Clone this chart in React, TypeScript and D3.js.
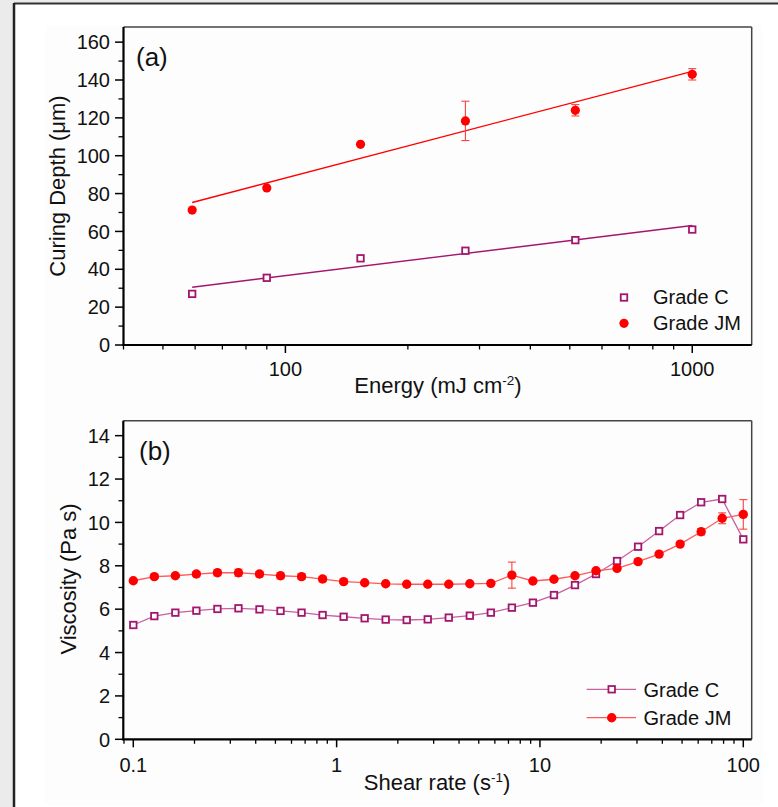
import React from "react";
import * as d3 from "d3";

// ---------- Panel (a) data ----------
const energy = [59, 90, 153, 277, 516, 1000];
const depthC = [27, 35.5, 45.8, 49.8, 55.4, 61];
const depthJM = [71.3, 83, 106, 118.4, 124, 143];
const depthJMErr = [0, 0, 0, 10.4, 3, 3];
const topYTicks = [0, 20, 40, 60, 80, 100, 120, 140, 160];
const topXTicks = [100, 1000];

// ---------- Panel (b) data ----------
const shearRate = [
  0.1, 0.1269, 0.161, 0.2043, 0.2593, 0.329, 0.4175, 0.5298, 0.6723, 0.8531,
  1.0826, 1.3737, 1.7431, 2.2118, 2.8066, 3.5613, 4.519, 5.7342, 7.2763, 9.233,
  11.716, 14.866, 18.864, 23.937, 30.374, 38.542, 48.906, 62.058, 78.746, 100,
];
const viscC = [
  5.27, 5.68, 5.84, 5.93, 6.01, 6.04, 5.99, 5.92, 5.84, 5.73,
  5.65, 5.58, 5.52, 5.5, 5.53, 5.61, 5.7, 5.84, 6.07, 6.3,
  6.65, 7.11, 7.62, 8.22, 8.88, 9.6, 10.34, 10.93, 11.08, 9.22,
];
const viscJM = [
  7.31, 7.5, 7.54, 7.62, 7.68, 7.68, 7.62, 7.54, 7.5, 7.39,
  7.27, 7.22, 7.17, 7.15, 7.15, 7.15, 7.17, 7.19, 7.57, 7.3,
  7.38, 7.54, 7.77, 7.88, 8.19, 8.54, 9.0, 9.57, 10.19, 10.37,
];
const viscJMErr = [
  0.05, 0.08, 0.08, 0.1, 0.14, 0.16, 0.12, 0.14, 0.12, 0.12,
  0.08, 0.06, 0.06, 0.05, 0.05, 0.05, 0.05, 0.05, 0.6, 0.08,
  0.06, 0.06, 0.05, 0.05, 0.05, 0.06, 0.08, 0.15, 0.25, 0.68,
];
const botYTicks = [0, 2, 4, 6, 8, 10, 12, 14];
const botXTicks = [0.1, 1, 10, 100];
const seriesNames = ["Grade C", "Grade JM"];

const C_COL = "#A3166E";
const C_LINE = "#C8609E";
const JM_COL = "#FF0000";
const JM_LINE = "#FF5A5A";
const FONT = "'Liberation Sans', Arial, Helvetica, sans-serif";

function fit(xs: number[], ys: number[]) {
  const lx = xs.map((v) => Math.log10(v));
  const mx = d3.mean(lx)!;
  const my = d3.mean(ys)!;
  let sxx = 0, sxy = 0;
  lx.forEach((v, i) => { sxx += (v - mx) ** 2; sxy += (v - mx) * (ys[i] - my); });
  const b = sxy / sxx;
  const a = my - b * mx;
  return (x: number) => a + b * Math.log10(x);
}

export default function App() {
  // panel a
  const ax = d3.scaleLog().domain([40, 1400]).range([123.5, 751.7]);
  const ay = d3.scaleLinear().domain([0, 168]).range([345, 27]);
  // panel b
  const bx = d3.scaleLog().domain([0.0893, 110]).range([123.3, 751.7]);
  const by = d3.scaleLinear().domain([0, 14.69]).range([739.3, 420.7]);

  const fitC = fit(energy, depthC);
  const fitJM = fit(energy, depthJM);
  const e0 = d3.min(energy)!;
  const e1 = d3.max(energy)!;

  const aLine = d3.line<number>().x((d) => ax(d)).y((d) => ay(d));
  const bLine = d3.line<number>().x((_, i) => bx(shearRate[i])).y((d) => by(d));

  const aMinorX = ax.ticks().filter((t) => !topXTicks.includes(t));
  const aMinorY = d3.range(10, 168, 20);
  const bMinorX = bx.ticks().filter((t) => !botXTicks.some((m) => Math.abs(m - t) < 1e-9));
  const bMinorY = d3.range(1, 14.69, 2);

  const square = (cx: number, cy: number, col: string, key: any, s = 6.5) => (
    <rect key={key} x={cx - s / 2} y={cy - s / 2} width={s} height={s}
      fill="white" stroke={col} strokeWidth={1.8} />
  );

  const tickLabel = { fontFamily: FONT, fontSize: 20, fill: "#111" } as const;

  return (
    <svg width={778} height={807} style={{ position: "absolute", left: 0, top: 0 }}
      fontFamily={FONT}>
      <rect x={0} y={0} width={778} height={807} fill="#ebebeb" />
      <rect x={14} y={3} width={770} height={810} fill="#ffffff" />
      <rect x={45} y={25} width={718} height={780} fill="#fdfdfd" />
      <line x1={14} y1={3.5} x2={778} y2={3.5} stroke="#333" strokeWidth={2} />
      <line x1={14} y1={3} x2={14} y2={807} stroke="#222" strokeWidth={2.5} />

      {/* ================= Panel (a) ================= */}
      <g>
        <line x1={123.5} y1={27} x2={751.7} y2={27} stroke="#444" strokeWidth={1.5} />
        <line x1={751.7} y1={27} x2={751.7} y2={345} stroke="#444" strokeWidth={1.5} />
        {topYTicks.map((t) => (
          <g key={"ay" + t}>
            <line x1={115} x2={123.5} y1={ay(t)} y2={ay(t)} stroke="#000" strokeWidth={1.5} />
            <text x={110} y={ay(t)} dy="0.36em" textAnchor="end" {...tickLabel}>{t}</text>
          </g>
        ))}
        {aMinorY.map((t) => (
          <line key={"aym" + t} x1={118.5} x2={123.5} y1={ay(t)} y2={ay(t)} stroke="#000" strokeWidth={1.3} />
        ))}
        {topXTicks.map((t) => (
          <g key={"ax" + t}>
            <line x1={ax(t)} x2={ax(t)} y1={345} y2={353} stroke="#000" strokeWidth={1.5} />
            <text x={ax(t)} y={376} textAnchor="middle" {...tickLabel}>{t}</text>
          </g>
        ))}
        {aMinorX.map((t) => (
          <line key={"axm" + t} x1={ax(t)} x2={ax(t)} y1={345} y2={349.5} stroke="#000" strokeWidth={1.3} />
        ))}
        <line x1={123.5} y1={27} x2={123.5} y2={346} stroke="#000" strokeWidth={2.2} />
        <line x1={122.5} y1={345} x2={751.7} y2={345} stroke="#000" strokeWidth={2.2} />

        <path d={aLine.y((d) => ay(fitC(d)))([e0, e1]) || ""} fill="none" stroke={C_COL} strokeWidth={1.4} />
        <path d={aLine.y((d) => ay(fitJM(d)))([e0, e1]) || ""} fill="none" stroke={JM_COL} strokeWidth={1.4} />

        {energy.map((e, i) =>
          depthJMErr[i] > 0 ? (
            <g key={"aerr" + i} stroke="#FF4040" strokeWidth={1.1}>
              <line x1={ax(e)} x2={ax(e)} y1={ay(depthJM[i] - depthJMErr[i])} y2={ay(depthJM[i] + depthJMErr[i])} />
              <line x1={ax(e) - 4} x2={ax(e) + 4} y1={ay(depthJM[i] - depthJMErr[i])} y2={ay(depthJM[i] - depthJMErr[i])} />
              <line x1={ax(e) - 4} x2={ax(e) + 4} y1={ay(depthJM[i] + depthJMErr[i])} y2={ay(depthJM[i] + depthJMErr[i])} />
            </g>
          ) : null
        )}
        {energy.map((e, i) => square(ax(e), ay(depthC[i]), C_COL, "ac" + i))}
        {energy.map((e, i) => (
          <circle key={"ajm" + i} cx={ax(e)} cy={ay(depthJM[i])} r={4.6} fill={JM_COL} />
        ))}

        <text x={136} y={66} fontSize={26} fill="#111">(a)</text>

        {square(624, 297.5, C_COL, "lega")}
        <text x={653} y={304} {...tickLabel}>{seriesNames[0]}</text>
        <circle cx={624} cy={323.3} r={4.6} fill={JM_COL} />
        <text x={653} y={329.5} {...tickLabel}>{seriesNames[1]}</text>

        <text transform="translate(57,186) rotate(-90)" textAnchor="middle" dy="0.36em"
          fontSize={22} fill="#111">Curing Depth (μm)</text>
        <text x={438} y={393} textAnchor="middle" fontSize={22} fill="#111">
          Energy (mJ cm<tspan dy={-8} fontSize={13.5}>-2</tspan><tspan dy={8}>)</tspan>
        </text>
      </g>

      {/* ================= Panel (b) ================= */}
      <g>
        <line x1={123.3} y1={420.7} x2={751.7} y2={420.7} stroke="#444" strokeWidth={1.5} />
        <line x1={751.7} y1={420.7} x2={751.7} y2={739.3} stroke="#444" strokeWidth={1.5} />
        {botYTicks.map((t) => (
          <g key={"by" + t}>
            <line x1={115} x2={123.3} y1={by(t)} y2={by(t)} stroke="#000" strokeWidth={1.5} />
            <text x={110} y={by(t)} dy="0.36em" textAnchor="end" {...tickLabel}>{t}</text>
          </g>
        ))}
        {bMinorY.map((t) => (
          <line key={"bym" + t} x1={118.5} x2={123.3} y1={by(t)} y2={by(t)} stroke="#000" strokeWidth={1.3} />
        ))}
        {botXTicks.map((t) => (
          <g key={"bx" + t}>
            <line x1={bx(t)} x2={bx(t)} y1={739.3} y2={747.3} stroke="#000" strokeWidth={1.5} />
            <text x={bx(t)} y={771.5} textAnchor="middle" {...tickLabel}>{String(t)}</text>
          </g>
        ))}
        {bMinorX.map((t) => (
          <line key={"bxm" + t} x1={bx(t)} x2={bx(t)} y1={739.3} y2={743.8} stroke="#000" strokeWidth={1.3} />
        ))}
        <line x1={123.3} y1={420.7} x2={123.3} y2={740.3} stroke="#000" strokeWidth={2.2} />
        <line x1={122.3} y1={739.3} x2={751.7} y2={739.3} stroke="#000" strokeWidth={2.2} />

        <path d={bLine(viscC) || ""} fill="none" stroke={C_LINE} strokeWidth={1.3} />
        <path d={bLine(viscJM) || ""} fill="none" stroke={JM_LINE} strokeWidth={1.3} />

        {shearRate.map((s, i) => (
          <g key={"berr" + i} stroke="#FF4040" strokeWidth={1.1}>
            <line x1={bx(s)} x2={bx(s)} y1={by(viscJM[i] - viscJMErr[i])} y2={by(viscJM[i] + viscJMErr[i])} />
            <line x1={bx(s) - 4} x2={bx(s) + 4} y1={by(viscJM[i] - viscJMErr[i])} y2={by(viscJM[i] - viscJMErr[i])} />
            <line x1={bx(s) - 4} x2={bx(s) + 4} y1={by(viscJM[i] + viscJMErr[i])} y2={by(viscJM[i] + viscJMErr[i])} />
          </g>
        ))}
        {shearRate.map((s, i) => square(bx(s), by(viscC[i]), C_COL, "bc" + i))}
        {shearRate.map((s, i) => (
          <circle key={"bjm" + i} cx={bx(s)} cy={by(viscJM[i])} r={4.7} fill={JM_COL} />
        ))}

        <text x={139} y={460} fontSize={26} fill="#111">(b)</text>

        <line x1={586.7} x2={636} y1={689.3} y2={689.3} stroke={C_LINE} strokeWidth={1.3} />
        {square(611.7, 689.3, C_COL, "legb")}
        <text x={643.5} y={696.7} {...tickLabel}>{seriesNames[0]}</text>
        <line x1={586.7} x2={636} y1={717.7} y2={717.7} stroke={JM_LINE} strokeWidth={1.3} />
        <circle cx={611.7} cy={717.7} r={4.7} fill={JM_COL} />
        <text x={643.5} y={725} {...tickLabel}>{seriesNames[1]}</text>

        <text transform="translate(68,579) rotate(-90)" textAnchor="middle" dy="0.36em"
          fontSize={22} fill="#111">Viscosity (Pa s)</text>
        <text x={437} y={790} textAnchor="middle" fontSize={22} fill="#111">
          Shear rate (s<tspan dy={-8} fontSize={13.5}>-1</tspan><tspan dy={8}>)</tspan>
        </text>
      </g>
    </svg>
  );
}
